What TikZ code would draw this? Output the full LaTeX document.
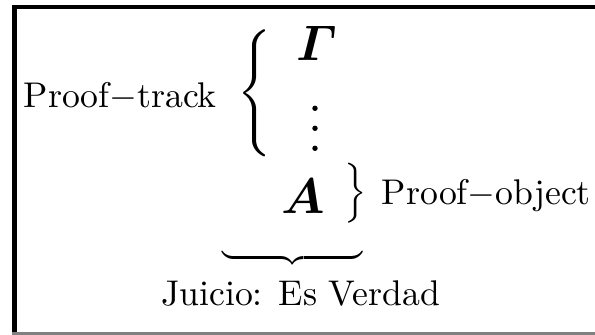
\RequirePackage{fix-cm}
\documentclass[tikz,border=0pt]{standalone}
\usepackage{amsmath}
\usepackage{graphicx}
\newcommand{\bigtxt}[1]{\scalebox{3.57}{#1}}
\begin{document}
\begin{tikzpicture}[x=1pt,y=-1pt,
  txt/.style={font=\fontsize{10}{12}\selectfont, inner sep=0pt},
  mth/.style={font=\fontsize{50}{60}\selectfont, inner sep=0pt},
  dotmark/.style={circle,fill=black,inner sep=0pt,minimum size=5.4pt}]
\useasboundingbox (0,0) rectangle (595,335);
\draw[line width=4.5pt, line join=miter] (14.3,335) -- (14.3,7) -- (595,7);
\draw[line width=3pt, black!50] (12,333.5) -- (595,333.5);
\node[txt, anchor=base west] (track) at (23.5,107.3) {\bigtxt{Proof$-$track}};
\node[txt] (lbrace) at (255,93.5) {\resizebox*{!}{127pt}{$\nulldelimiterspace=0pt\left\{\vcenter{\hrule height 30pt width 0pt}\right.$}};
\node[mth, anchor=base west] (gam) at (296,60) {$\boldsymbol{\varGamma}$};
\node[dotmark] (d1) at (315,108.3) {};
\node[dotmark] (d2) at (315,128.3) {};
\node[dotmark] (d3) at (315,148.3) {};
\node[mth, anchor=base west] (aa) at (281,213) {$\boldsymbol{A}$};
\node[txt] (rbrace) at (355.5,193) {\resizebox*{!}{60pt}{$\nulldelimiterspace=0pt\left.\vcenter{\hrule height 16pt width 0pt}\right\}$}};
\node[txt, anchor=base west] (obj) at (381.7,204) {\bigtxt{Proof$-$object}};
\node[txt, anchor=north, font=\fontsize{36}{43}\selectfont] (ubrace) at (292.5,253) {$\underbrace{\hbox to 141pt{}}$};
\node[txt, anchor=base west] (juicio) at (161,305.3) {\bigtxt{Juicio: Es Verdad}};
\end{tikzpicture}
\end{document}
